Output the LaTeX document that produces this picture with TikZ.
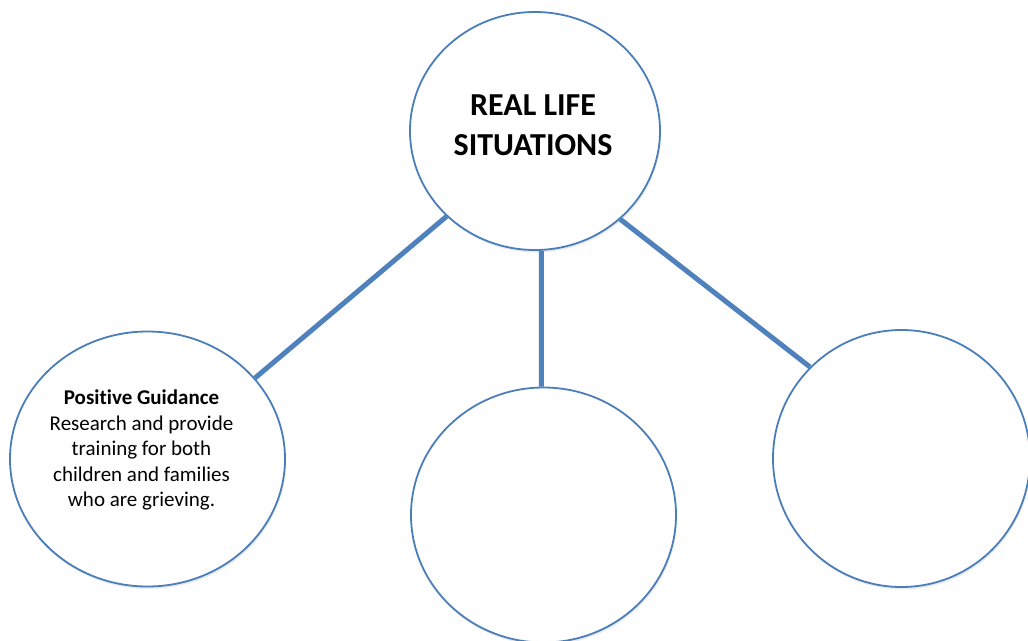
\documentclass[tikz,border=0pt]{standalone}
\usepackage{fontspec}
\setmainfont[Ligatures=NoCommon]{Carlito}
\definecolor{ringblue}{RGB}{74, 126, 187}
\definecolor{linkblue}{RGB}{79, 129, 189}
\usetikzlibrary{shapes, positioning, calc, shadows}

\begin{document}
\begin{tikzpicture}[x=1pt, y=-1pt,
  bubble/.style={draw=ringblue, line width=1.8pt, fill=white, ellipse, inner sep=0pt,
    drop shadow={fill=black, opacity=0.08, shadow xshift=1pt, shadow yshift=-2.5pt}},
  link/.style={draw=linkblue, line width=5pt}]
  \useasboundingbox (0,0) rectangle (1028,640);

  % Centre topic
  \node[bubble, minimum width=250pt, minimum height=238pt] (topic) at (535,131) {};
  \node[font=\bfseries\fontsize{32}{40}\selectfont, align=center] (topictext) at (533,125) {REAL LIFE\\SITUATIONS};

  % Branches
  \node[bubble, minimum width=275pt, minimum height=255pt] (guide) at (147.5,459) {};
  \node[font=\fontsize{21}{25.5}\selectfont, align=center] (guidetext) at (141.5,450) {
    \textbf{Positive Guidance}\\Research and provide\\training for both\\children and families\\who are grieving.};
  \node[bubble, minimum width=265pt, minimum height=255pt] (middle) at (543.5,515) {};
  \node[bubble, minimum width=257pt, minimum height=257pt] (right) at (901.5,458.5) {};

  % Links
  \draw[link] (topic.-136) -- (guide.37);
  \draw[link] (topic.-87) -- (middle.91);
  \draw[link] (topic.-46) -- (right.135);
\end{tikzpicture}
\end{document}
